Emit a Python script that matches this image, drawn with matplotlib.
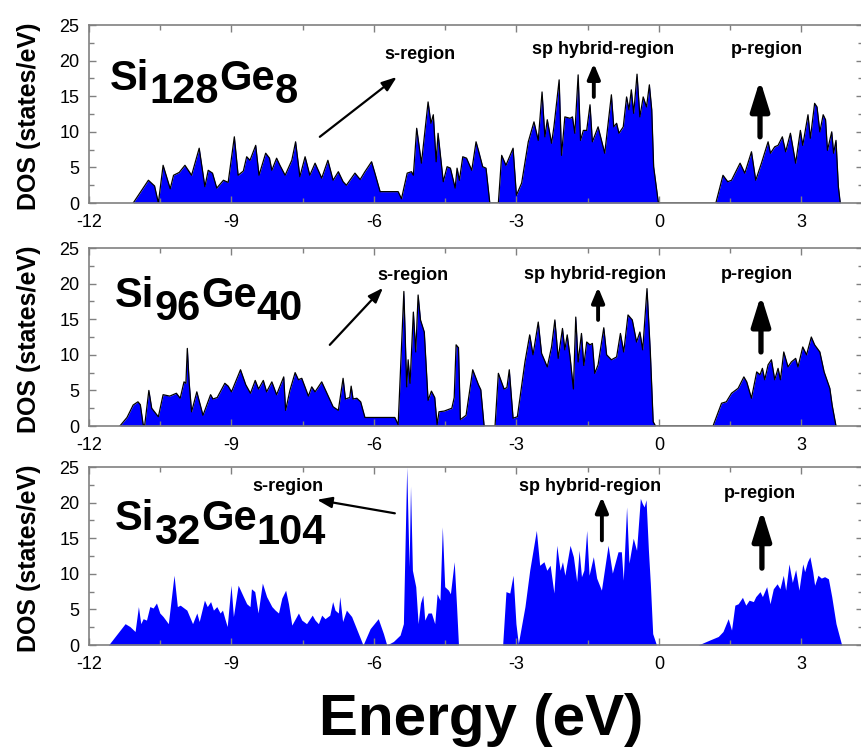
import numpy as np
import matplotlib.pyplot as plt
from matplotlib.ticker import MultipleLocator

plt.rcParams['font.family'] = ['Liberation Sans', 'DejaVu Sans']
plt.rcParams['axes.unicode_minus'] = False

# Si128Ge8 : energy (eV) / DOS (states/eV)
e1 = [-11.07, -10.95, -10.75, -10.62, -10.54, -10.44, -10.29, -10.22, -10.1, -9.98, -9.84, -9.68,
      -9.56, -9.49, -9.4, -9.31, -9.17, -9.07, -8.94, -8.86, -8.75, -8.68, -8.61, -8.49, -8.42,
      -8.28, -8.2, -8.15, -8.05, -7.98, -7.87, -7.73, -7.65, -7.56, -7.45, -7.35, -7.24, -7.1,
      -6.97, -6.86, -6.75, -6.65, -6.58, -6.4, -6.29, -6.19, -6.05, -5.98, -5.87, -5.49, -5.42,
      -5.3, -5.21, -5.17, -5.1, -5.0, -4.86, -4.8, -4.75, -4.69, -4.65, -4.54, -4.46, -4.39,
      -4.29, -4.25, -4.2, -4.13, -4.05, -3.94, -3.85, -3.8, -3.71, -3.64, -3.56,
      -3.38, -3.31, -3.22, -3.07, -3.0, -2.89, -2.75, -2.63, -2.54, -2.46, -2.4, -2.35, -2.26,
      -2.21, -2.1, -2.05, -1.98, -1.87, -1.82, -1.77, -1.7, -1.65, -1.59, -1.52, -1.45, -1.4,
      -1.28, -1.14, -1.0, -0.95, -0.89, -0.84, -0.75, -0.68, -0.63, -0.58, -0.53, -0.46, -0.4,
      -0.33, -0.26, -0.2, -0.15, -0.11, -0.01,
      1.2, 1.35, 1.45, 1.53, 1.71, 1.81, 1.95, 2.04, 2.16, 2.3, 2.35, 2.44, 2.51, 2.6, 2.67,
      2.77, 2.88, 2.98, 3.03, 3.14, 3.19, 3.28, 3.33, 3.39, 3.46, 3.51, 3.55, 3.64, 3.68, 3.73,
      3.78, 3.82]
d1 = [0, 1.2, 3.2, 2.4, 0, 5.3, 2.0, 3.9, 4.3, 5.3, 3.9, 7.7,
      2.3, 4.6, 4.2, 2.1, 3.2, 2.9, 9.3, 3.9, 4.5, 6.5, 6.0, 8.1, 3.9,
      7.0, 6.3, 4.6, 6.3, 5.3, 3.9, 6.0, 8.6, 3.7, 6.5, 3.9, 5.6, 3.5,
      6.0, 3.2, 4.4, 3.0, 2.5, 4.2, 3.3, 4.4, 5.8, 4.2, 1.6, 1.6, 0.6,
      4.2, 4.4, 3.9, 10.5, 5.6, 14.2, 11.2, 12.4, 5.8, 9.8, 3.0, 5.1, 4.9,
      2.1, 4.9, 3.2, 6.5, 6.3, 4.6, 8.6, 7.4, 5.1, 4.9, 0,
      0, 6.7, 5.3, 7.7, 1.1, 2.8, 8.6, 11.4, 8.8, 15.6, 9.3, 11.7, 8.4,
      10.7, 17.3, 6.7, 12.1, 11.9, 12.1, 9.8, 18.0, 8.8, 10.2, 10.2, 13.8, 8.6,
      10.7, 7.0, 15.2, 10.7, 11.2, 9.8, 10.7, 14.9, 13.1, 15.9, 12.6, 18.1, 12.1,
      14.9, 13.5, 16.6, 13.1, 5.1, 0,
      0, 3.9, 3.0, 3.2, 5.6, 4.2, 7.2, 3.2, 5.6, 8.6, 7.0, 7.9, 8.1, 9.3, 7.2,
      9.8, 5.6, 10.2, 8.1, 12.4, 9.1, 14.0, 13.5, 10.0, 12.4, 11.7, 7.4, 10.0, 7.0, 8.8,
      2.3, 0]

# Si96Ge40
e2 = [-11.35, -11.2, -11.07, -10.97, -10.92, -10.86, -10.83, -10.74, -10.68, -10.54, -10.44,
      -10.3, -10.16, -10.08, -10.0, -9.96, -9.93, -9.89, -9.84, -9.73, -9.6, -9.44, -9.39, -9.3,
      -9.14, -9.07, -9.0, -8.81, -8.7, -8.6, -8.5, -8.43, -8.33, -8.26, -8.15, -8.05, -7.9, -7.86,
      -7.77, -7.66, -7.59, -7.52, -7.38, -7.31, -7.24, -7.1, -6.99, -6.86, -6.75, -6.65, -6.6,
      -6.51, -6.48, -6.44, -6.36, -6.28, -6.19, -5.56, -5.49, -5.37, -5.31, -5.28, -5.24, -5.17,
      -5.12, -5.07, -5.02, -4.94, -4.86, -4.79, -4.72, -4.67, -4.63, -4.52, -4.36, -4.31, -4.27,
      -4.22, -4.18, -4.06, -3.92, -3.8, -3.75, -3.68,
      -3.45, -3.38, -3.26, -3.2, -3.15, -3.07, -2.98, -2.82, -2.72, -2.65, -2.54, -2.47, -2.35,
      -2.26, -2.19, -2.12, -2.03, -1.98, -1.93, -1.87, -1.8, -1.75, -1.7, -1.63, -1.58, -1.52,
      -1.45, -1.4, -1.35, -1.28, -1.16, -1.1, -1.0, -0.89, -0.81, -0.74, -0.65, -0.56, -0.47,
      -0.4, -0.34, -0.25, -0.18, -0.12, -0.07,
      1.14, 1.32, 1.42, 1.53, 1.67, 1.79, 1.85, 1.95, 2.06, 2.13, 2.18, 2.23, 2.3, 2.37, 2.44,
      2.51, 2.56, 2.63, 2.72, 2.79, 2.88, 2.93, 3.03, 3.11, 3.21, 3.28, 3.39, 3.48, 3.6, 3.65,
      3.73]
d2 = [0, 1.2, 2.95, 3.4, 3.0, 0.2, 0, 5.0, 2.5, 1.3, 4.4,
      4.2, 4.6, 3.9, 6.2, 6.0, 10.9, 6.0, 2.0, 4.8, 1.5, 4.4, 3.8, 4.0,
      6.0, 5.6, 4.8, 7.9, 5.8, 4.6, 6.4, 5.2, 6.4, 4.8, 6.2, 4.4, 6.9, 2.2,
      5.0, 7.5, 6.5, 6.7, 4.2, 5.5, 4.8, 6.2, 4.6, 2.7, 2.2, 6.7, 3.8,
      4.0, 5.6, 3.8, 3.9, 3.4, 1.2, 1.2, 0.2, 18.9, 5.5, 9.3, 6.0, 16.0,
      10.4, 18.4, 14.9, 13.2, 3.6, 4.9, 4.0, 0.2, 2.0, 2.1, 2.5, 4.0, 11.4,
      11.0, 0.9, 1.5, 7.9, 5.8, 5.1, 0,
      0, 7.4, 5.2, 5.4, 7.9, 1.1, 1.3, 9.0, 12.8, 10.0, 14.6, 10.2, 8.3,
      11.1, 14.9, 9.5, 13.7, 10.7, 12.8, 9.7, 5.2, 15.3, 9.0, 13.0, 8.5, 11.8,
      11.4, 11.6, 7.4, 8.6, 13.8, 10.0, 9.3, 9.7, 13.0, 10.4, 15.6, 14.9, 11.8,
      13.2, 10.7, 19.3, 10.4, 0.6, 0,
      0, 3.2, 3.4, 4.6, 5.3, 6.9, 6.2, 3.9, 7.6, 7.2, 8.1, 6.5, 8.6, 9.3, 6.5,
      8.1, 6.5, 10.4, 8.3, 9.0, 9.5, 8.3, 11.1, 10.0, 12.5, 11.4, 10.4, 7.6, 5.3, 2.9,
      0]

# Si32Ge104
e3 = [-11.59, -11.45, -11.24, -11.14, -11.03, -10.96, -10.91, -10.86, -10.79, -10.72, -10.65,
      -10.58, -10.51, -10.44, -10.33, -10.21, -10.14, -10.08, -9.94, -9.82, -9.73, -9.68, -9.57,
      -9.51, -9.44, -9.38, -9.31, -9.24, -9.19, -9.14, -9.09, -9.01, -8.96, -8.86, -8.75, -8.68,
      -8.61, -8.58, -8.51, -8.44, -8.35, -8.26, -8.15, -8.08, -8.01, -7.94, -7.86, -7.8, -7.73,
      -7.59, -7.52, -7.42, -7.3, -7.24, -7.17, -7.1, -7.03, -6.93, -6.87, -6.82, -6.75, -6.72,
      -6.66, -6.58, -6.47, -6.23, -6.08, -5.91, -5.8, -5.73, -5.59, -5.45, -5.38, -5.31, -5.26,
      -5.23, -5.19, -5.12, -5.07, -5.02, -4.97, -4.93, -4.86, -4.79, -4.72, -4.67, -4.61, -4.56,
      -4.51, -4.43, -4.39, -4.31, -4.26, -4.22,
      -3.29, -3.22, -3.14, -3.07, -3.01, -2.96, -2.82, -2.72, -2.58, -2.51, -2.42, -2.36, -2.29,
      -2.21, -2.15, -2.08, -2.03, -1.98, -1.87, -1.8, -1.73, -1.68, -1.63, -1.58, -1.52, -1.47,
      -1.38, -1.31, -1.21, -1.07, -0.98, -0.86, -0.79, -0.75, -0.68, -0.63, -0.54, -0.47, -0.39,
      -0.35, -0.31, -0.27, -0.22, -0.18, -0.13, -0.05,
      0.83, 0.93, 1.07, 1.25, 1.35, 1.46, 1.53, 1.6, 1.67, 1.76, 1.83, 1.9, 1.99, 2.04, 2.13,
      2.18, 2.27, 2.34, 2.41, 2.49, 2.55, 2.62, 2.67, 2.74, 2.81, 2.88, 2.95, 3.03, 3.07, 3.13,
      3.18, 3.24, 3.28, 3.35, 3.42, 3.49, 3.57, 3.64, 3.73, 3.85]
d3 = [0, 1.2, 3.0, 2.6, 1.9, 5.4, 3.0, 3.7, 3.5, 5.4, 5.2,
      5.9, 4.5, 4.0, 3.0, 9.8, 5.4, 5.6, 4.9, 3.0, 4.5, 3.3, 6.3,
      5.4, 6.1, 4.9, 5.4, 4.5, 4.9, 3.7, 2.6, 8.4, 4.0, 8.4, 6.8, 5.8,
      5.4, 7.9, 7.5, 4.5, 8.7, 6.8, 5.4, 4.9, 4.5, 6.6, 7.7, 5.8, 2.8,
      4.5, 3.5, 3.0, 4.2, 3.5, 3.0, 4.2, 3.7, 4.2, 6.1, 4.9, 4.5, 6.8,
      3.3, 4.9, 4.0, 0, 2.3, 3.7, 1.6, 0, 0.5, 1.4, 3.0, 25.0, 11.0,
      22.3, 10.5, 8.2, 3.0, 5.9, 7.0, 3.5, 4.5, 4.5, 3.0, 7.2, 6.3, 16.6,
      8.2, 7.7, 7.2, 11.7, 5.4, 0,
      0, 7.5, 7.3, 9.8, 3.0, 0.2, 5.4, 10.5, 16.1, 11.2, 11.7, 10.5, 11.2,
      7.3, 14.0, 10.5, 11.7, 9.8, 14.0, 12.4, 8.9, 13.3, 9.6, 10.5, 16.1, 9.8,
      12.4, 9.4, 7.7, 14.0, 10.1, 13.1, 13.1, 9.1, 19.4, 11.5, 15.0, 13.3, 20.6,
      19.9, 19.4, 20.4, 13.3, 8.7, 1.6, 0,
      0, 0.3, 0.7, 1.2, 1.9, 3.7, 2.1, 5.6, 5.8, 6.7, 5.6, 6.3, 6.1, 6.8, 7.5,
      6.8, 8.2, 5.8, 7.9, 8.6, 7.9, 9.8, 7.7, 11.4, 8.8, 10.6, 7.7, 11.4, 10.3, 11.7,
      12.4, 10.3, 8.4, 9.8, 9.4, 9.6, 9.3, 6.8, 3.0, 0]

formulas = [('Si', '128', 'Ge', '8'), ('Si', '96', 'Ge', '40'), ('Si', '32', 'Ge', '104')]

fig = plt.figure(figsize=(8.61, 7.47), dpi=100)
bottoms = [0.7282, 0.4297, 0.1365]
energies = [e1, e2, e3]
dos = [d1, d2, d3]
outlined = [True, True, False]

# text / arrow placement per panel (data coords)
formula_xy = [(-11.56, 15.9), (-11.45, 16.7), (-11.45, 16.1)]
s_text = [(-5.03, 20.8), (-5.18, 21.2), (-7.81, 22.3)]
s_arrow = [((-7.14, 9.3), (-5.52, 17.7)), ((-6.93, 11.4), (-5.81, 19.4)), ((-5.56, 18.5), (-7.2, 20.4))]
sp_text = [(-1.18, 21.5), (-1.35, 21.3), (-1.45, 22.3)]
sp_arrow = [(-1.37, 14.9, 19.6), (-1.28, 14.9, 19.5), (-1.2, 14.7, 20.8)]
p_text = [(2.27, 21.5), (2.06, 21.3), (2.13, 21.3)]
p_arrow = [(2.13, 9.3, 17.3), (2.15, 10.4, 18.4), (2.17, 10.8, 19.0)]

frame = '#808080'

for i in range(3):
    ax = fig.add_axes([0.1034, bottoms[i], 0.899, 0.2383])
    e = np.array(energies[i])
    d = np.array(dos[i])
    ax.fill_between(e, d, 0, color='#0000ff', lw=0)
    if outlined[i]:
        ax.plot(e, d, color='black', lw=0.9)
    ax.set_xlim(-12, 4.3)
    ax.set_ylim(0, 25)
    ax.xaxis.set_major_locator(MultipleLocator(3))
    ax.xaxis.set_minor_locator(MultipleLocator(1.5))
    ax.yaxis.set_major_locator(MultipleLocator(5))
    ax.yaxis.set_minor_locator(MultipleLocator(2.5))
    ax.tick_params(which='both', direction='in', top=True, right=True, color=frame, width=1)
    ax.tick_params(which='major', length=5, labelsize=13)
    ax.tick_params(which='minor', length=3.5)
    ax.tick_params(axis='x', pad=8)
    ax.tick_params(axis='y', pad=7)
    for sp in ax.spines.values():
        sp.set_color(frame)
        sp.set_linewidth(1.2)
    ax.set_ylabel('DOS (states/eV)', fontsize=18, fontweight='bold')
    ax.yaxis.set_label_coords(-0.062, 0.49)

    # compound label with full-size lowered indices
    parts = formulas[i]
    t = ax.text(formula_xy[i][0], formula_xy[i][1], parts[0], fontsize=30, fontweight='bold', va='baseline')
    for k, p in enumerate(parts[1:]):
        dy = -9.5 if k % 2 == 0 else 9.5
        t = ax.annotate(p, xy=(1, 0), xycoords=t, xytext=(0, dy), textcoords='offset points',
                        fontsize=30, fontweight='bold', va='bottom', ha='left')

    ax.text(s_text[i][0], s_text[i][1], 's-region', fontsize=13, fontweight='bold', ha='center', va='center')
    ax.text(sp_text[i][0], sp_text[i][1], 'sp hybrid-region', fontsize=13, fontweight='bold', ha='center', va='center')
    ax.text(p_text[i][0], p_text[i][1], 'p-region', fontsize=13, fontweight='bold', ha='center', va='center')

    tail, tip = s_arrow[i]
    ax.annotate('', xy=tip, xytext=tail,
                arrowprops=dict(arrowstyle='-|>,head_length=0.6,head_width=0.22', color='black',
                                lw=1.6, shrinkA=0, shrinkB=0, mutation_scale=15))
    x, y0, y1 = sp_arrow[i]
    ax.annotate('', xy=(x, y1), xytext=(x, y0),
                arrowprops=dict(arrowstyle='-|>,head_length=0.6,head_width=0.25', color='black',
                                lw=2.8, shrinkA=0, shrinkB=0, mutation_scale=15))
    x, y0, y1 = p_arrow[i]
    ax.annotate('', xy=(x, y1), xytext=(x, y0),
                arrowprops=dict(arrowstyle='-|>,head_length=0.9,head_width=0.28', color='black',
                                lw=3.8, shrinkA=0, shrinkB=0, mutation_scale=20))

fig.text(0.5587, 0.0167, 'Energy (eV)', fontsize=42, fontweight='bold', ha='center', va='baseline')

plt.savefig('out.png', dpi=100)
